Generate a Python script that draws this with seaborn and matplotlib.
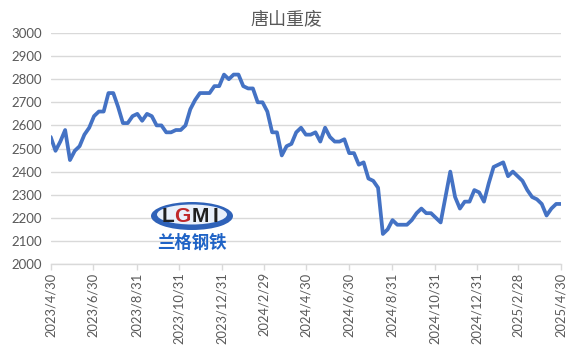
import numpy as np
import pandas as pd
import matplotlib
matplotlib.use("Agg")
import matplotlib.pyplot as plt
from matplotlib.patches import Ellipse
import seaborn as sns

title = "唐山重废"
tick_labels = ["2023/4/30", "2023/6/30", "2023/8/31", "2023/10/31", "2023/12/31",
               "2024/2/29", "2024/4/30", "2024/6/30", "2024/8/31", "2024/10/31",
               "2024/12/31", "2025/2/28", "2025/4/30"]
prices = [2550, 2490, 2530, 2580, 2450, 2490, 2510, 2560, 2590, 2640,
          2660, 2660, 2740, 2740, 2680, 2610, 2610, 2640, 2650, 2620,
          2650, 2640, 2600, 2600, 2570, 2570, 2580, 2580, 2600, 2670,
          2710, 2740, 2740, 2740, 2770, 2770, 2820, 2800, 2820, 2820,
          2770, 2760, 2760, 2700, 2700, 2660, 2570, 2570, 2470, 2510,
          2520, 2570, 2590, 2560, 2560, 2570, 2530, 2590, 2550, 2530,
          2530, 2540, 2480, 2480, 2430, 2440, 2370, 2360, 2330, 2130,
          2150, 2190, 2170, 2170, 2170, 2190, 2220, 2240, 2220, 2220,
          2200, 2180, 2290, 2400, 2290, 2240, 2270, 2270, 2320, 2310,
          2270, 2350, 2420, 2430, 2440, 2380, 2400, 2380, 2360, 2320,
          2290, 2280, 2260, 2210, 2240, 2260, 2260]
start_date, end_date = "2023-04-30", "2025-04-30"

dates = pd.date_range(start_date, end_date, periods=len(prices))
df = pd.DataFrame({"date": dates, "price": prices})

sns.set_theme(style="white")
plt.rcParams['font.family'] = ['Lato', 'Noto Sans CJK SC', 'DejaVu Sans']

fig = plt.figure(figsize=(5.73, 3.51), dpi=100)
ax = fig.add_axes([50.7/573, 1-264/351, (561-50.7)/573, (264-33)/351])

sns.lineplot(data=df, x="date", y="price", ax=ax, color="#4472C4", linewidth=2.7)

ax.set_ylim(2000, 3000)
ax.set_yticks(range(2000, 3001, 100))
ax.set_xlim(pd.Timestamp(start_date), pd.Timestamp(end_date))
tick_dates = [pd.Timestamp(t.replace("/", "-")) for t in tick_labels]
ax.set_xticks(tick_dates)
ax.set_xticklabels(tick_labels, rotation=90)
ax.set_xlabel("")
ax.set_ylabel("")
ax.grid(axis="y", color="#d9d9d9", linewidth=1)
ax.set_axisbelow(True)
for s in ["top", "right", "left"]:
    ax.spines[s].set_visible(False)
ax.spines["bottom"].set_color("#d9d9d9")
ax.spines["bottom"].set_linewidth(1)
ax.tick_params(axis="x", colors="#595959", labelsize=9.3, length=4, width=1,
               color="#d9d9d9", direction="out", bottom=True, pad=2)
ax.tick_params(axis="y", colors="#595959", labelsize=9.5, length=0, pad=6)
for lab in ax.get_xticklabels() + ax.get_yticklabels():
    lab.set_color("#595959")

fig.text(0.5, 1-19/351, title, ha="center", va="center", fontsize=13,
         color="#595959", family=['Noto Sans CJK SC', 'DejaVu Sans'])

# watermark logo
cx, cy = 192/573, 1-216/351
fig.patches.append(Ellipse((cx, cy), 82/573, 28/351, transform=fig.transFigure,
                           facecolor="#2f62b8", edgecolor="none", zorder=5))
fig.patches.append(Ellipse((cx, cy+1.5/351), 70/573, 20/351, transform=fig.transFigure,
                           facecolor="#eaf1fb", edgecolor="none", zorder=6))
letters = [("L", 168, "#202020"), ("G", 182, "#c0282a"), ("M", 200, "#202020"), ("I", 215, "#202020")]
for ch, px, col in letters:
    fig.text(px/573, cy, ch, ha="center", va="center", fontsize=15, fontweight="bold",
             color=col, family=["Liberation Sans", "DejaVu Sans"], zorder=7)
fig.text(cx, 1-243/351, "兰格钢铁", ha="center", va="center", fontsize=12.5, fontweight="bold",
         color="#1f63c6", family=['Noto Sans CJK SC', 'DejaVu Sans'], zorder=7)

fig.savefig("out.png", dpi=100)
